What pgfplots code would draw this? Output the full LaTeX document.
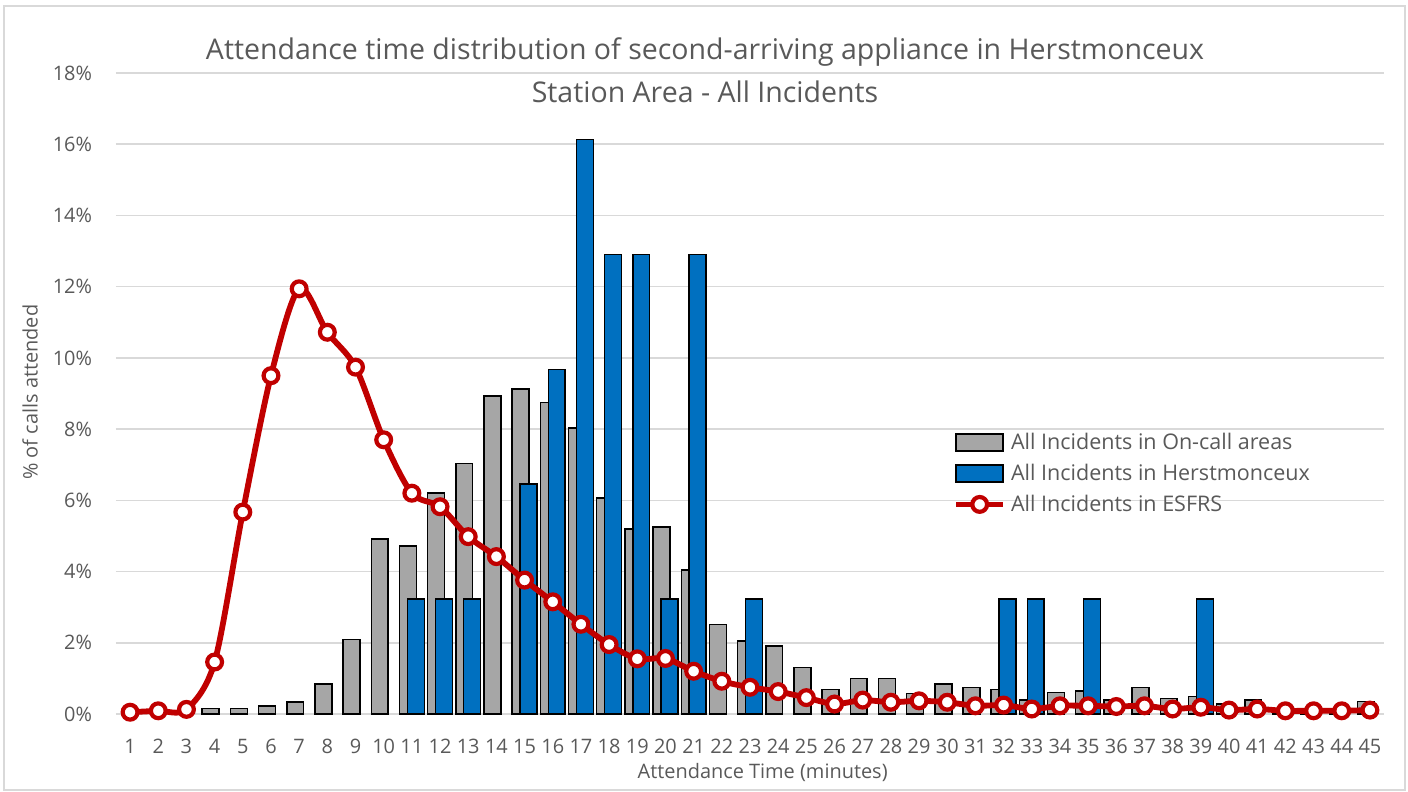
\documentclass[border=0pt]{standalone}
\usepackage{pgfplots}
\pgfplotsset{compat=1.18}
\usepackage{fontspec}
\setmainfont{Open Sans}
\definecolor{grayBar}{HTML}{A6A6A6}
\definecolor{blueBar}{HTML}{0070C0}
\definecolor{redLine}{HTML}{C00000}
\definecolor{gridc}{HTML}{D9D9D9}
\definecolor{txt}{HTML}{595959}
\pgfplotsset{
  barleg/.style={legend image code/.code={\draw[##1] (0bp,-4.25bp) rectangle (23.5bp,4.25bp);}},
  lineleg/.style={legend image code/.code={\draw[##1, mark=none] (0bp,0bp) -- (23.5bp,0bp);
    \draw[##1] plot coordinates {(11.75bp,0bp)};}},
}
\begin{document}
\begin{tikzpicture}
\path[use as bounding box] (0,0) rectangle (704bp,396bp);
\draw[gridc, line width=0.7bp] (2bp,1bp) rectangle (702.5bp,393bp);
\begin{axis}[
  at={(58bp,39bp)}, anchor=south west,
  scale only axis, width=634bp, height=320.5bp,
  xmin=0.5, xmax=45.5, ymin=0, ymax=18,
  xtick={1,...,45}, ytick={0,2,...,18},
  yticklabel={\pgfmathprintnumber{\tick}\%},
  /pgf/number format/assume math mode=true,
  axis line style={draw=none}, major tick length=0pt,
  ymajorgrids, grid style={gridc, line width=0.75bp},
  tick label style={font=\fontsize{10}{12}\selectfont, text=txt},
  yticklabel style={xshift=-8.5bp},
  xticklabel style={yshift=-9bp},
  xlabel={Attendance Time (minutes)},
  ylabel={\% of calls attended},
  label style={font=\fontsize{10}{12}\selectfont, text=txt},
  xlabel style={at={(axis description cs:0.510,-0.092)}, anchor=center},
  ylabel style={at={(axis description cs:-0.0678,0.502)}, anchor=center},
  clip=false,
  legend style={at={(0.660,0.447)}, anchor=north west, draw=none, fill=none,
    font=\fontsize{10.8}{12}\selectfont, text=txt, row sep=0.8bp,
    inner sep=0pt, nodes={inner sep=2.5bp}},
  legend cell align=left,
]
\addplot[ybar, bar width=0.6, bar shift=-0.14, fill=grayBar, draw=black, line width=0.75bp, barleg]
coordinates {
(4,0.16) (5,0.16) (6,0.22) (7,0.33) (8,0.84) (9,2.09) (10,4.92) (11,4.72) (12,6.2) (13,7.03)
(14,8.93) (15,9.13) (16,8.75) (17,8.03) (18,6.07) (19,5.2) (20,5.25) (21,4.05) (22,2.52) (23,2.05)
(24,1.91) (25,1.31) (26,0.69) (27,1.0) (28,1.0) (29,0.58) (30,0.84) (31,0.75) (32,0.69) (33,0.39)
(34,0.6) (35,0.65) (36,0.39) (37,0.74) (38,0.44) (39,0.49) (40,0.28) (41,0.39) (42,0.05) (43,0.05)
(44,0.05) (45,0.35)
};
\addlegendentry{All Incidents in On-call areas}
\addplot[ybar, bar width=0.6, bar shift=0.14, fill=blueBar, draw=black, line width=0.75bp, barleg]
coordinates {
(11,3.226) (12,3.226) (13,3.226) (15,6.452) (16,9.677) (17,16.129) (18,12.903) (19,12.903)
(20,3.226) (21,12.903) (23,3.226) (32,3.226) (33,3.226) (35,3.226) (39,3.226)
};
\addlegendentry{All Incidents in Herstmonceux}
\addplot[smooth, tension=0.5, redLine, line width=2.9bp, mark=*,
  mark size=3.7bp, mark options={fill=white, draw=redLine, line width=2.1bp}, lineleg]
coordinates {
(1,0.05) (2,0.09) (3,0.13) (4,1.46) (5,5.67) (6,9.5) (7,11.94) (8,10.72) (9,9.74) (10,7.70)
(11,6.2) (12,5.82) (13,4.98) (14,4.42) (15,3.76) (16,3.15) (17,2.52) (18,1.95) (19,1.55) (20,1.56)
(21,1.2) (22,0.92) (23,0.75) (24,0.63) (25,0.46) (26,0.28) (27,0.39) (28,0.33) (29,0.37) (30,0.33)
(31,0.23) (32,0.25) (33,0.14) (34,0.23) (35,0.23) (36,0.21) (37,0.23) (38,0.14) (39,0.19) (40,0.11)
(41,0.14) (42,0.09) (43,0.09) (44,0.09) (45,0.11)
};
\addlegendentry{All Incidents in ESFRS}
\end{axis}
\node[align=center, text=txt, font=\fontsize{14.3}{21.5}\selectfont] at (352.5bp,360.75bp)
  {Attendance time distribution of second-arriving appliance in Herstmonceux\\Station Area - All Incidents};
\end{tikzpicture}
\end{document}
